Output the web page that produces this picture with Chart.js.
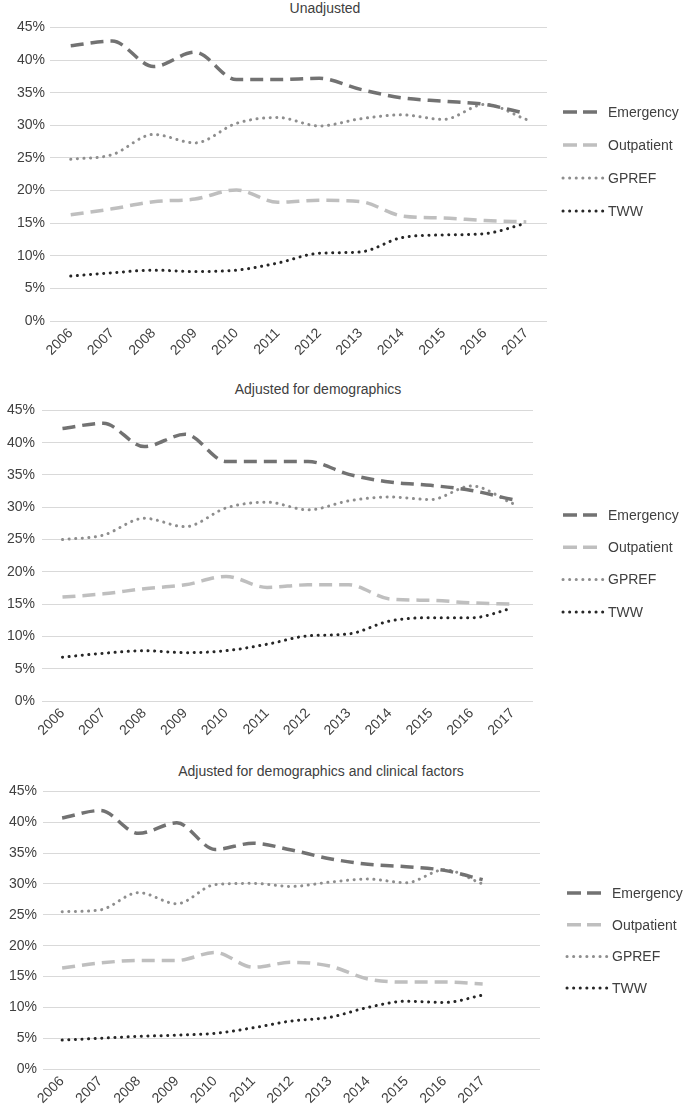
<!DOCTYPE html>
<html>
<head>
<meta charset="utf-8">
<script src="https://cdn.jsdelivr.net/npm/chart.js@4/dist/chart.umd.min.js"></script>
<style>
  body { margin: 0; background: #fff; width: 685px; height: 1107px; overflow: hidden; position: relative; }
  canvas { position: absolute; left: 0; }
  .title { position: absolute; left: 0; width: 650px; text-align: center;
    font: 14px "Liberation Sans", Arial, sans-serif; color: #404040; }
</style>
</head>
<body>
<div class="title" style="top:0px">Unadjusted</div>
<div class="title" style="top:381px; width:636px">Adjusted for demographics</div>
<div class="title" style="top:763px; width:642px">Adjusted for demographics and clinical factors</div>
<canvas id="c1" width="685" height="349" style="top:14px"></canvas>
<canvas id="c2" width="685" height="348" style="top:395px"></canvas>
<canvas id="c3" width="685" height="334" style="top:777px"></canvas>
<script>
const years = ["2006", "2007", "2008", "2009", "2010", "2011", "2012", "2013", "2014", "2015", "2016", "2017"];
const yearsPadded = years.concat([""]);
const yTicks = [0, 5, 10, 15, 20, 25, 30, 35, 40, 45];

// Unadjusted (% of patients)
const emergency1 = [42.2, 42.9, 39.0, 41.2, 37.0, 37.0, 37.2, 35.5, 34.2, 33.7, 33.2, 31.8];
const outpatient1 = [16.3, 17.2, 18.3, 18.7, 20.1, 18.2, 18.5, 18.3, 16.1, 15.8, 15.4, 15.2];
const gpref1 = [24.8, 25.5, 28.6, 27.3, 30.3, 31.2, 29.9, 31.0, 31.6, 30.9, 33.2, 30.9];
const tww1 = [6.9, 7.4, 7.8, 7.6, 7.8, 8.9, 10.4, 10.6, 12.8, 13.2, 13.4, 15.0];

// Adjusted for demographics
const emergency2 = [42.2, 43.0, 39.4, 41.3, 37.1, 37.1, 37.1, 35.1, 33.9, 33.4, 32.6, 31.2];
const outpatient2 = [16.1, 16.6, 17.4, 18.0, 19.3, 17.6, 18.0, 18.0, 15.8, 15.6, 15.2, 15.0];
const gpref2 = [25.0, 25.7, 28.3, 27.0, 29.9, 30.8, 29.6, 31.0, 31.6, 31.2, 33.3, 30.6];
const tww2 = [6.8, 7.4, 7.8, 7.5, 7.8, 8.8, 10.1, 10.4, 12.4, 12.9, 12.9, 14.4];

// Adjusted for demographics and clinical factors
const emergency3 = [40.7, 41.9, 38.2, 39.9, 35.6, 36.6, 35.5, 34.1, 33.2, 32.8, 32.2, 30.7];
const outpatient3 = [16.4, 17.2, 17.6, 17.6, 18.9, 16.5, 17.3, 16.7, 14.6, 14.1, 14.1, 13.8];
const gpref3 = [25.5, 25.8, 28.6, 26.8, 29.9, 30.1, 29.6, 30.3, 30.8, 30.2, 32.3, 30.0];
const tww3 = [4.7, 5.0, 5.3, 5.5, 5.8, 6.7, 7.8, 8.4, 10.0, 11.0, 10.8, 12.0];

const FONT = '"Liberation Sans", Arial, sans-serif';

/* draws the legend as dash samples plus labels, to the right of the plot */
const lineLegend = {
  id: "lineLegend",
  afterDraw(chart, args, opts) {
    const ctx = chart.ctx;
    ctx.save();
    chart.data.datasets.forEach((ds, i) => {
      const y = opts.top + i * opts.gap;
      ctx.strokeStyle = ds.borderColor;
      ctx.lineWidth = ds.borderWidth;
      ctx.lineCap = ds.borderCapStyle;
      ctx.setLineDash(ds.legendDash || ds.borderDash);
      ctx.beginPath();
      ctx.moveTo(opts.x, y);
      ctx.lineTo(opts.x + 40, y);
      ctx.stroke();
      ctx.setLineDash([]);
      ctx.fillStyle = "#404040";
      ctx.font = "14px " + FONT;
      ctx.textBaseline = "middle";
      ctx.fillText(ds.label, opts.x + 45, y + 1);
    });
    ctx.restore();
  },
};

function makeDatasets(em, op, gp, tw) {
  return [
    { label: "Emergency", data: em, borderColor: "#727272", borderWidth: 3.5,
      borderDash: [13, 7], legendDash: [14, 6], borderCapStyle: "butt" },
    { label: "Outpatient", data: op, borderColor: "#bfbfbf", borderWidth: 3.5,
      borderDash: [13, 7], legendDash: [14, 6], borderCapStyle: "butt" },
    { label: "GPREF", data: gp, borderColor: "#8e8e8e", borderWidth: 3,
      borderDash: [0.1, 6.5], borderCapStyle: "round" },
    { label: "TWW", data: tw, borderColor: "#262626", borderWidth: 3,
      borderDash: [0.1, 6.5], borderCapStyle: "round" },
  ];
}

function makePanel(id, labels, datasets, pad, tickPad, legend) {
  return new Chart(document.getElementById(id), {
    type: "line",
    data: { labels: labels, datasets: datasets },
    plugins: [lineLegend],
    options: {
      responsive: false,
      animation: false,
      layout: { padding: pad },
      elements: {
        line: { cubicInterpolationMode: "monotone", fill: false },
        point: { radius: 0, hoverRadius: 0 },
      },
      plugins: {
        legend: { display: false },
        title: { display: false },
        tooltip: { enabled: false },
        lineLegend: legend,
      },
      scales: {
        x: {
          offset: true,
          grid: { display: false, drawTicks: false },
          border: { display: false },
          ticks: { color: "#404040", font: { size: 14, family: FONT },
            minRotation: 45, maxRotation: 45, autoSkip: false, padding: 4 },
        },
        y: {
          min: 0, max: 45,
          afterBuildTicks: (axis) => { axis.ticks = yTicks.map((v) => ({ value: v })); },
          grid: { color: "#d9d9d9", lineWidth: 1, drawTicks: false },
          border: { display: false },
          ticks: { color: "#404040", font: { size: 14, family: FONT },
            padding: tickPad, callback: (v) => v + "%" },
        },
      },
    },
  });
}

makePanel("c1", years, makeDatasets(emergency1, outpatient1, gpref1, tww1),
  { left: 12, right: 138, top: 0, bottom: 0 }, 5, { x: 563, top: 98, gap: 33 });
makePanel("c2", years, makeDatasets(emergency2, outpatient2, gpref2, tww2),
  { left: 0, right: 152, top: 0, bottom: 0 }, 7, { x: 563, top: 120, gap: 32.3 });
makePanel("c3", yearsPadded, makeDatasets(emergency3, outpatient3, gpref3, tww3),
  { left: 3, right: 145, top: 0, bottom: 0 }, 6, { x: 567, top: 116, gap: 31.7 });
</script>
</body>
</html>
